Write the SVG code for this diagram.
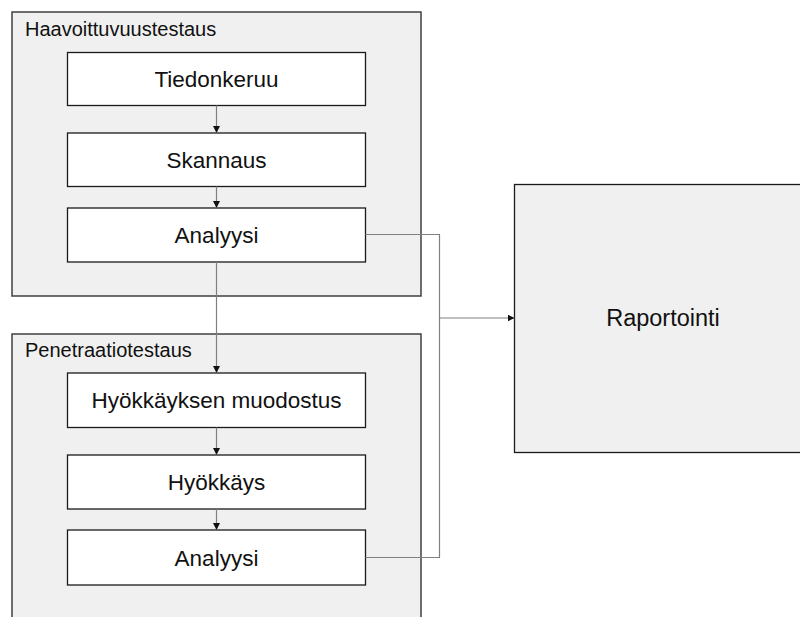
<svg xmlns="http://www.w3.org/2000/svg" width="800" height="617" viewBox="0 0 800 617">
<style>
.grp{fill:#f0f0f0;stroke:#404040;stroke-width:1.5}
.box{fill:#ffffff;stroke:#1a1a1a;stroke-width:1.3}
.rep{fill:#f0f0f0;stroke:#1a1a1a;stroke-width:1.3}
.t{font-family:"Liberation Sans",Arial,sans-serif;font-size:22.5px;fill:#111;text-anchor:middle}
.g{font-family:"Liberation Sans",Arial,sans-serif;font-size:20px;fill:#111}
.c{fill:none;stroke:#808080;stroke-width:1.2}
</style>
<defs>
<marker id="arr" markerWidth="8" markerHeight="8" refX="7" refY="4" orient="auto" markerUnits="userSpaceOnUse">
<path d="M0,0.5 L7,4 L0,7.5 Z" fill="#111"/>
</marker>
</defs>
<rect width="800" height="617" fill="#ffffff"/>
<g id="haavoittuvuustestaus">
<rect class="grp" x="12" y="12" width="409" height="284"/>
<text class="g" x="25" y="36">Haavoittuvuustestaus</text>
</g>
<g id="penetraatiotestaus">
<rect class="grp" x="12" y="334" width="409" height="300"/>
<text class="g" x="25" y="357">Penetraatiotestaus</text>
</g>
<g id="tiedonkeruu">
<rect class="box" x="67.5" y="52.5" width="298" height="53"/>
<text class="t" x="216.5" y="87">Tiedonkeruu</text>
</g>
<g id="skannaus">
<rect class="box" x="67.5" y="133" width="298" height="53.5"/>
<text class="t" x="216.5" y="167.5">Skannaus</text>
</g>
<g id="analyysi1">
<rect class="box" x="67.5" y="208" width="298" height="54"/>
<text class="t" x="216.5" y="243">Analyysi</text>
</g>
<g id="hyokkayksen">
<rect class="box" x="67.5" y="373" width="298" height="54.5"/>
<text class="t" x="216.5" y="408">Hyökkäyksen muodostus</text>
</g>
<g id="hyokkays">
<rect class="box" x="67.5" y="455" width="298" height="54"/>
<text class="t" x="216.5" y="490">Hyökkäys</text>
</g>
<g id="analyysi2">
<rect class="box" x="67.5" y="530" width="298" height="55"/>
<text class="t" x="216.5" y="565.5">Analyysi</text>
</g>
<g id="raportointi">
<rect class="rep" x="514.5" y="184.5" width="300" height="268"/>
<text class="t" x="663" y="326" style="font-size:23.5px">Raportointi</text>
</g>
<g id="connectors">
<path class="c" d="M216.5,105.5 V133" marker-end="url(#arr)"/>
<path class="c" d="M216.5,186.5 V208" marker-end="url(#arr)"/>
<path class="c" d="M216.5,262 V373" marker-end="url(#arr)"/>
<path class="c" d="M216.5,427.5 V455" marker-end="url(#arr)"/>
<path class="c" d="M216.5,509 V530" marker-end="url(#arr)"/>
<path class="c" d="M365.5,234.5 H439.5 V557.5 H365.5"/>
<path class="c" d="M439.5,318 H514.5" marker-end="url(#arr)"/>
</g>
</svg>
